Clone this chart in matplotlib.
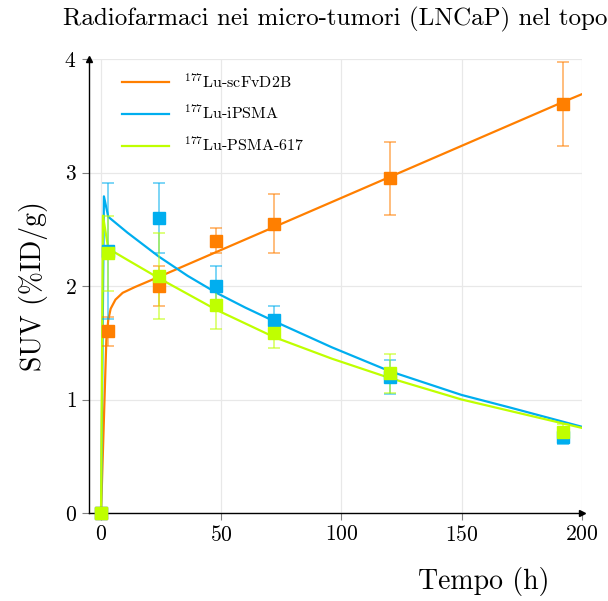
import matplotlib
matplotlib.use("Agg")
import matplotlib.pyplot as plt

plt.rcParams['font.family'] = 'cmr10'
plt.rcParams['mathtext.fontset'] = 'cm'
plt.rcParams['axes.formatter.use_mathtext'] = True

# measured points (h, SUV %ID/g)
t = [0, 3, 24, 48, 72, 120, 192]
scfv = [0, 1.60, 2.00, 2.40, 2.55, 2.95, 3.60]
scfv_err = [0, 0.13, 0.18, 0.11, 0.26, 0.32, 0.37]
ipsma = [0, 2.31, 2.60, 2.00, 1.70, 1.20, 0.67]
ipsma_err = [0, 0.60, 0.31, 0.18, 0.12, 0.15, 0.06]
psma617 = [0, 2.29, 2.09, 1.83, 1.59, 1.23, 0.71]
psma617_err = [0, 0.33, 0.38, 0.21, 0.14, 0.17, 0.07]

# fitted curves
fit_t_scfv = [0, 2.2, 3, 4, 6, 9, 14, 24, 48, 72, 120, 192, 200]
fit_scfv = [0, 1.52, 1.70, 1.80, 1.88, 1.94, 1.99, 2.08, 2.30, 2.52, 2.96, 3.62, 3.69]
fit_t_ipsma = [0, 1.2, 3, 11, 24, 36, 48, 60, 72, 96, 120, 150, 170, 200]
fit_ipsma = [0, 2.79, 2.61, 2.47, 2.26, 2.09, 1.94, 1.81, 1.69, 1.46, 1.25, 1.04, 0.93, 0.76]
fit_t_617 = [0, 0.8, 3, 11, 24, 36, 48, 60, 72, 96, 120, 150, 170, 200]
fit_617 = [0, 2.62, 2.33, 2.23, 2.07, 1.93, 1.79, 1.67, 1.55, 1.36, 1.19, 1.00, 0.90, 0.75]

labels = [r'$^{177}$Lu-scFvD2B', r'$^{177}$Lu-iPSMA', r'$^{177}$Lu-PSMA-617']
colors = ['#ff7f00', '#00aeef', '#bfff00']

fig = plt.figure(figsize=(6.08, 6.01), dpi=100)
ax = fig.add_axes([0.1464, 0.1464, 0.8106, 0.7554])

series = [
    (fit_t_scfv, fit_scfv, scfv, scfv_err),
    (fit_t_ipsma, fit_ipsma, ipsma, ipsma_err),
    (fit_t_617, fit_617, psma617, psma617_err),
]

for (ft, fv, y, e), c, lab in zip(series, colors, labels):
    ax.plot(ft, fv, color=c, lw=1.6, label=lab, zorder=3)
    ax.errorbar(t, y, yerr=e, fmt='none', ecolor=c, alpha=0.6,
                elinewidth=1.2, capsize=4.5, capthick=1.2, zorder=4)
    ax.plot(t, y, ls='none', marker='s', ms=8.5, color=c,
            markeredgecolor=c, zorder=5, clip_on=False)

ax.set_xlim(-5, 200)
ax.set_ylim(0, 4)
ax.set_xticks([0, 50, 100, 150, 200])
ax.set_yticks([0, 1, 2, 3, 4])
ax.grid(True, color='#e8e8e8', lw=0.9)
ax.set_axisbelow(True)
ax.tick_params(labelsize=15.5, color='#808080', length=5, width=0.8)
ax.tick_params(axis='y', pad=4)

for s in ['top', 'right']:
    ax.spines[s].set_visible(False)
for s in ['left', 'bottom']:
    ax.spines[s].set_linewidth(1.0)

# arrow heads on the axis lines
ax.plot(1, 0, '>k', ms=4, transform=ax.transAxes, clip_on=False)
ax.plot(0, 1, '^k', ms=4, transform=ax.transAxes, clip_on=False)

ax.set_title('Radiofarmaci nei micro-tumori (LNCaP) nel topo', fontsize=18, pad=24)
ax.set_ylabel('SUV (%ID/g)', fontsize=20, labelpad=12)
ax.set_xlabel('Tempo (h)', fontsize=20, labelpad=10)
ax.xaxis.set_label_coords(0.8, -0.12)

ax.legend(loc='upper left', frameon=False, fontsize=11.5, handlelength=3.0,
          handletextpad=0.9, labelspacing=0.85, borderaxespad=0.4,
          bbox_to_anchor=(0.04, 1.0))

fig.savefig('out.png', dpi=100)
